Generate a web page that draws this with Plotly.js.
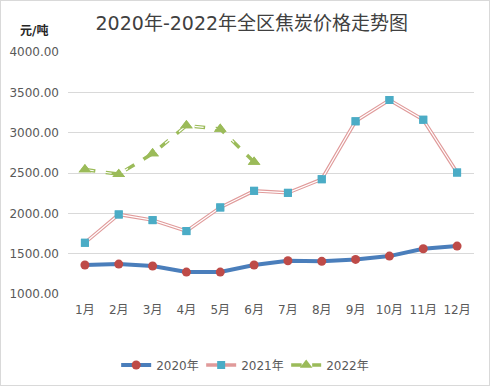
<!DOCTYPE html>
<html><head><meta charset="utf-8">
<script src="https://cdn.plot.ly/plotly-3.0.1.min.js"></script>
<style>html,body{margin:0;padding:0;background:#fff}#c{width:488px;height:384px;border:1px solid #d9d9d9}</style>
</head><body><div id="c"></div>
<script>
const months = ["1月","2月","3月","4月","5月","6月","7月","8月","9月","10月","11月","12月"];
const v2020 = [1359,1371,1347,1272,1272,1359,1412,1405,1429,1470,1561,1594];
const v2021 = [1635,1986,1916,1780,2073,2279,2254,2423,3141,3405,3160,2506];
const months2022 = ["1月","2月","3月","4月","5月","6月"];
const v2022 = [2543,2485,2741,3088,3046,2637];
const F = "DejaVu Sans, Noto Sans CJK SC, sans-serif";
const traces = [
 {x:months,y:v2020,name:"2020年",mode:"lines+markers",line:{color:"#4a7ebb",width:4},marker:{color:"#be4b48",size:9,symbol:"circle"}},
 {x:months,y:v2021,name:"2021年",mode:"lines+markers",line:{color:"#e09a9a",width:3.5},marker:{color:"#4bacc6",size:8,symbol:"square"}},
 {x:months,y:v2021,showlegend:false,hoverinfo:"skip",mode:"lines",line:{color:"#ffffff",width:1.2}},
 {x:months,y:v2021,showlegend:false,mode:"markers",marker:{color:"#4bacc6",size:8,symbol:"square"}},
 {x:months2022,y:v2022,name:"2022年",mode:"lines+markers",line:{color:"#9bbb59",width:3.5,dash:"dash"},marker:{color:"#9bbb59",size:11,symbol:"triangle-up"}},
 {x:months2022,y:v2022,showlegend:false,hoverinfo:"skip",mode:"lines",line:{color:"#ffffff",width:1.2,dash:"dash"}},
 {x:months2022,y:v2022,showlegend:false,mode:"markers",marker:{color:"#9bbb59",size:11,symbol:"triangle-up"}}
];
const layout = {
 width:488,height:384,
 margin:{l:67,r:15,t:51,b:91},
 paper_bgcolor:"#fff",plot_bgcolor:"#fff",
 font:{family:F,color:"#595959",size:12},
 title:{text:"2020年-2022年全区焦炭价格走势图",font:{family:F,size:19,color:"#404040"},x:0.514,xanchor:"center",y:0.96,yanchor:"top"},
 xaxis:{type:"category",categoryorder:"array",categoryarray:months,showgrid:false,zeroline:false,showline:false,ticks:"",tickfont:{size:12,color:"#595959"},range:[-0.5,11.5],ticklabelstandoff:7},
 yaxis:{range:[1000,4000],dtick:500,tickformat:".2f",gridcolor:"#d9d9d9",gridwidth:1,zeroline:false,showline:false,tickfont:{size:12,color:"#595959"},ticks:"",ticklabelstandoff:8},
 legend:{orientation:"h",xref:"container",yref:"container",x:0.236,xanchor:"left",y:0.052,yanchor:"middle",font:{size:12,color:"#595959"},entrywidth:40,entrywidthmode:"pixels"},
 annotations:[{text:"<b>元/吨</b>",xref:"paper",yref:"paper",x:-0.123,y:1.089,xanchor:"left",yanchor:"middle",showarrow:false,font:{size:12,color:"#262626",family:F}}]
};
Plotly.newPlot("c",traces,layout,{displayModeBar:false});
</script></body></html>
